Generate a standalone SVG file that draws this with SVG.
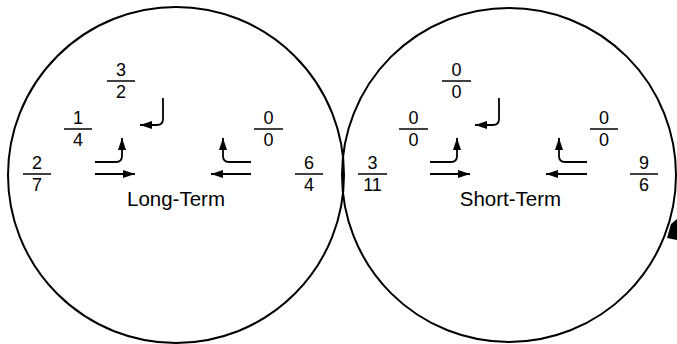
<svg xmlns="http://www.w3.org/2000/svg" width="677" height="344" viewBox="0 0 677 344">
<defs>
<marker id="ah" viewBox="0 0 12 8" refX="12" refY="4" markerWidth="12" markerHeight="8" markerUnits="userSpaceOnUse" orient="auto">
<path d="M0,0 L12,4 L0,8 Z" fill="#000"/>
</marker>
<style>
.c{fill:none;stroke:#000;stroke-width:2}
.a{fill:none;stroke:#000;stroke-width:1.8;marker-end:url(#ah)}
.f{stroke:#000;stroke-width:1.5}
text{font-family:"Liberation Sans",Arial,sans-serif;fill:#000}
.n{font-size:18px;text-anchor:middle}
.l{font-size:20.5px;text-anchor:middle}
</style>
</defs>
<g id="long-term">
<circle class="c" cx="176" cy="175" r="168"/>
<text class="l" x="176" y="206">Long-Term</text>
</g>
<g id="short-term">
<circle class="c" cx="509" cy="175" r="167"/>
<text class="l" x="510.5" y="206">Short-Term</text>
</g>
<g id="f-3-2"><text class="n" x="121" y="76">3</text><line class="f" x1="107" y1="81" x2="135" y2="81"/><text class="n" x="121" y="98">2</text></g>
<g id="f-1-4"><text class="n" x="78" y="124">1</text><line class="f" x1="64" y1="129" x2="92" y2="129"/><text class="n" x="78" y="146">4</text></g>
<g id="f-2-7"><text class="n" x="37" y="169">2</text><line class="f" x1="23" y1="174" x2="51" y2="174"/><text class="n" x="37" y="191">7</text></g>
<g id="f-0-0-a"><text class="n" x="268.5" y="124">0</text><line class="f" x1="254" y1="129" x2="283" y2="129"/><text class="n" x="268.5" y="146">0</text></g>
<g id="f-6-4"><text class="n" x="309" y="169">6</text><line class="f" x1="295" y1="174" x2="323" y2="174"/><text class="n" x="309" y="191">4</text></g>
<g id="f-0-0-b"><text class="n" x="456.5" y="76">0</text><line class="f" x1="442" y1="81" x2="471" y2="81"/><text class="n" x="456.5" y="98">0</text></g>
<g id="f-0-0-c"><text class="n" x="413.5" y="124">0</text><line class="f" x1="399" y1="129" x2="428" y2="129"/><text class="n" x="413.5" y="146">0</text></g>
<g id="f-3-11"><text class="n" x="372.5" y="169">3</text><line class="f" x1="358" y1="174" x2="387" y2="174"/><text class="n" x="372.5" y="191">11</text></g>
<g id="f-0-0-d"><text class="n" x="604" y="124">0</text><line class="f" x1="590" y1="129" x2="618" y2="129"/><text class="n" x="604" y="146">0</text></g>
<g id="f-9-6"><text class="n" x="644" y="169">9</text><line class="f" x1="630" y1="174" x2="658" y2="174"/><text class="n" x="644" y="191">6</text></g>
<g id="connectors">
<path class="a" d="M163,98 V119 Q163,125 157,125 H140"/>
<path class="a" d="M95,162 H116 Q122,162 122,156 V138"/>
<path class="a" d="M95,174 H135"/>
<path class="a" d="M251,174 H211"/>
<path class="a" d="M251,162 H229 Q223,162 223,156 V138"/>
<path class="a" d="M499,98 V119 Q499,125 493,125 H475"/>
<path class="a" d="M430,162 H451 Q457,162 457,156 V138"/>
<path class="a" d="M430,174 H470"/>
<path class="a" d="M587,174 H546"/>
<path class="a" d="M587,162 H565 Q559,162 559,156 V138"/>
<polygon points="671,224 677,219 677,240 667,238" fill="#000"/>
</g>
</svg>
